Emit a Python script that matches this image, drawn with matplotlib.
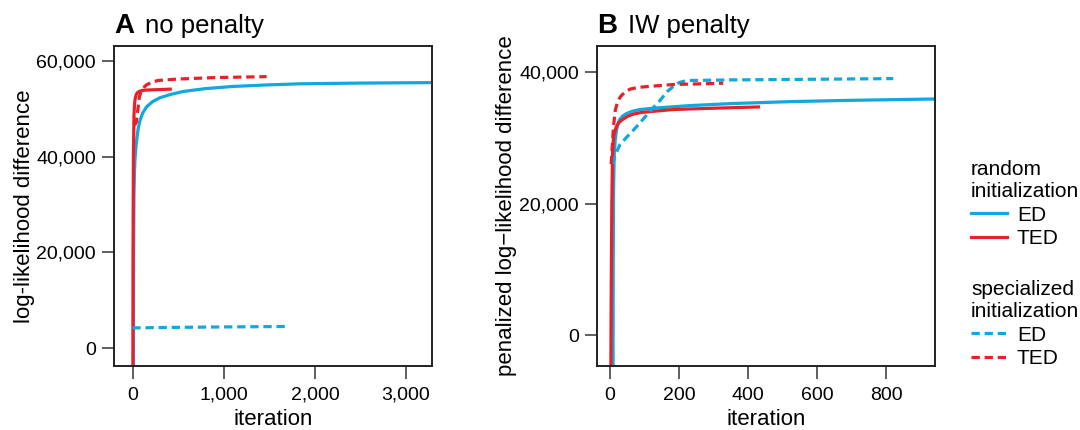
import matplotlib.pyplot as plt
import matplotlib.transforms as mtransforms
from matplotlib.lines import Line2D
from matplotlib.ticker import FuncFormatter

plt.rcParams['font.family'] = ['Liberation Sans', 'DejaVu Sans']

BLUE = "#12a7de"
RED = "#e8202a"

# panel A: no penalty
a_rand_ed_x = [8, 10, 14, 20, 25, 35, 44, 60, 80, 110, 153, 220, 300, 420, 555, 800, 1100, 1450, 1835, 2500, 3300]
a_rand_ed_y = [-20000, 20000, 32000, 37000, 39300, 41800, 43500, 45800, 47500, 49100, 50400, 51500, 52300, 53000,
               53600, 54200, 54650, 54950, 55200, 55350, 55450]
a_rand_ted_x = [1, 4, 8, 14, 20, 25, 32, 40, 55, 70, 100, 150, 300, 430]
a_rand_ted_y = [-20000, 20000, 40000, 48500, 50800, 51800, 52500, 53000, 53400, 53600, 53800, 53900, 54000, 54100]
a_spec_ed_x = [2, 10, 400, 1000, 1690]
a_spec_ed_y = [4000, 4200, 4300, 4400, 4500]
a_spec_ted_x = [20, 40, 55, 73, 90, 110, 130, 154, 220, 281, 500, 900, 1470]
a_spec_ted_y = [46500, 47200, 49500, 52500, 53400, 54000, 54600, 55000, 55600, 55900, 56200, 56500, 56700]

# panel B: IW penalty
b_rand_ed_x = [8, 9, 10, 12, 15, 19, 24, 28, 36, 48, 65, 87, 115, 150, 232, 350, 522, 700, 942]
b_rand_ed_y = [-20000, 10000, 22000, 27500, 29800, 31300, 32300, 32800, 33300, 33700, 34050, 34300, 34450,
               34600, 34900, 35200, 35500, 35700, 35900]
b_rand_ted_x = [1, 3, 5, 7, 10, 14, 18, 25, 34, 50, 67, 90, 120, 183, 300, 435]
b_rand_ted_y = [-20000, 5000, 20000, 27500, 30200, 31100, 31700, 32300, 32700, 33250, 33600, 33850, 34000,
                34300, 34500, 34700]
b_spec_ed_x = [8, 14.5, 29, 50, 77, 110, 145, 165, 183, 200, 222, 350, 600, 821]
b_spec_ed_y = [26000, 27400, 29000, 30200, 31700, 33700, 35700, 37000, 37800, 38400, 38700, 38800, 38900, 39000]
b_spec_ted_x = [3, 6, 10, 15, 22, 28, 34, 45, 58, 80, 110, 183, 260, 328]
b_spec_ted_y = [26000, 28500, 31800, 34200, 35500, 36100, 36500, 37000, 37400, 37650, 37800, 38100, 38200, 38300]

a_xticks = [0, 1000, 2000, 3000]
a_yticks = [0, 20000, 40000, 60000]
b_xticks = [0, 200, 400, 600, 800]
b_yticks = [0, 20000, 40000]

LW = 2.3
DASH = (0, (2.6, 1.5))

fig = plt.figure(figsize=(10.8, 4.3), dpi=100)
axA = fig.add_axes([114 / 1080, 64 / 430, 318 / 1080, 320 / 430])
axB = fig.add_axes([597 / 1080, 64 / 430, 338 / 1080, 320 / 430])

comma = FuncFormatter(lambda v, p: f"{int(v):,}")


def draw(ax, rand_ed, rand_ted, spec_ed, spec_ted):
    ax.plot(*rand_ed, color=BLUE, lw=LW, solid_capstyle="butt", solid_joinstyle="round")
    ax.plot(*rand_ted, color=RED, lw=LW, solid_capstyle="butt", solid_joinstyle="round")
    ax.plot(*spec_ed, color=BLUE, lw=LW, linestyle=DASH)
    ax.plot(*spec_ted, color=RED, lw=LW, linestyle=DASH)


draw(axA, (a_rand_ed_x, a_rand_ed_y), (a_rand_ted_x, a_rand_ted_y),
     (a_spec_ed_x, a_spec_ed_y), (a_spec_ted_x, a_spec_ted_y))
draw(axB, (b_rand_ed_x, b_rand_ed_y), (b_rand_ted_x, b_rand_ted_y),
     (b_spec_ed_x, b_spec_ed_y), (b_spec_ted_x, b_spec_ted_y))

axA.set_xlim(-205, 3285)
axA.set_ylim(-3760, 63100)
axA.set_xticks(a_xticks)
axA.set_yticks(a_yticks)
axA.set_ylabel("log-likelihood difference", fontsize=16, labelpad=1)

axB.set_xlim(-38, 942)
axB.set_ylim(-4660, 43950)
axB.set_xticks(b_xticks)
axB.set_yticks(b_yticks)
axB.set_ylabel("penalized log\u2212likelihood difference", fontsize=16, labelpad=1.5)

for ax, letter, title in [(axA, "A", "no penalty"), (axB, "B", "IW penalty")]:
    ax.xaxis.set_major_formatter(comma)
    ax.yaxis.set_major_formatter(comma)
    ax.tick_params(direction="out", length=9, width=1.1, color="#333333",
                   labelsize=14, pad=4)
    ax.tick_params(axis="x", pad=6)
    ax.set_xlabel("iteration", fontsize=16, labelpad=4)
    for s in ax.spines.values():
        s.set_linewidth(1.4)
        s.set_color("#222222")
    ax.text(0, 1, letter, transform=mtransforms.offset_copy(ax.transAxes, fig=fig, x=0, y=12.7, units="dots"),
            fontsize=20, fontweight="bold", va="baseline", ha="left")
    ax.text(0, 1, title, transform=mtransforms.offset_copy(ax.transAxes, fig=fig, x=31, y=12.7, units="dots"),
            fontsize=18.5, va="baseline", ha="left")

h_rand = [Line2D([], [], color=BLUE, lw=LW), Line2D([], [], color=RED, lw=LW)]
h_spec = [Line2D([], [], color=BLUE, lw=LW, linestyle=DASH),
          Line2D([], [], color=RED, lw=LW, linestyle=DASH)]

leg_kw = dict(frameon=False, fontsize=15, title_fontsize=15, alignment="left",
              handlelength=1.75, handletextpad=0.45, labelspacing=0.22,
              borderpad=0, borderaxespad=0, loc="upper left")
fig.legend(h_rand, ["ED", "TED"], title="random\ninitialization",
           bbox_to_anchor=(971 / 1080, 1 - 160 / 430), **leg_kw)
fig.legend(h_spec, ["ED", "TED"], title="specialized\ninitialization",
           bbox_to_anchor=(971 / 1080, 1 - 280 / 430), **leg_kw)

fig.savefig("out.png", dpi=100)
